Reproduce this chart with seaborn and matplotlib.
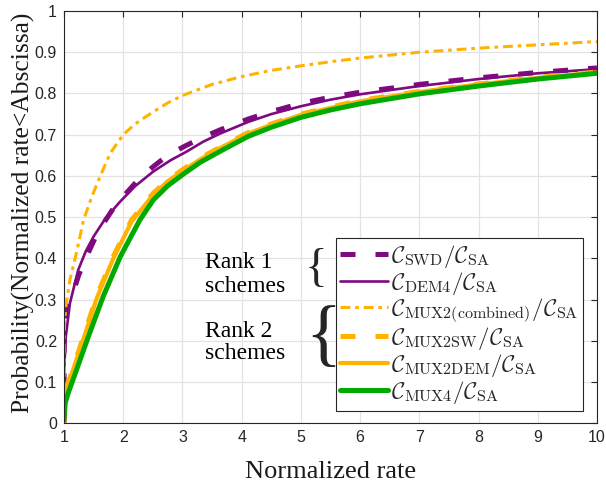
import numpy as np
import pandas as pd
import matplotlib
matplotlib.use("Agg")
import matplotlib.pyplot as plt
import seaborn as sns

# CDF curves of normalized rate (ratio to C_SA)
x_swd = [1.0, 1.002, 1.03, 1.13, 1.25, 1.38, 1.52, 1.69, 1.85, 2.05, 2.25, 2.51, 2.75, 3.05, 3.35, 3.64, 4.11, 4.5, 5, 5.5, 6, 7, 8, 9, 10]
y_swd = [0.0, 0.24, 0.27, 0.307, 0.36, 0.404, 0.448, 0.49, 0.525, 0.558, 0.59, 0.623, 0.65, 0.673, 0.694, 0.712, 0.738, 0.756, 0.776, 0.791, 0.803, 0.822, 0.838, 0.851, 0.862]

x_dem4 = [1.0, 1.003, 1.03, 1.1, 1.24, 1.37, 1.5, 1.7, 1.95, 2.2, 2.51, 2.8, 3.07, 3.35, 3.64, 4.11, 4.5, 5, 5.5, 6, 7, 8, 9, 10]
y_dem4 = [0.0, 0.13, 0.21, 0.291, 0.372, 0.418, 0.453, 0.497, 0.538, 0.575, 0.611, 0.638, 0.659, 0.683, 0.703, 0.731, 0.75, 0.769, 0.785, 0.798, 0.818, 0.835, 0.849, 0.859]

x_comb = [1.0, 1.002, 1.03, 1.1, 1.21, 1.33, 1.47, 1.61, 1.78, 2.0, 2.2, 2.5, 2.75, 3.0, 3.5, 4.0, 4.5, 5, 5.5, 6, 7, 8, 9, 10]
y_comb = [0.0, 0.226, 0.283, 0.348, 0.413, 0.493, 0.55, 0.599, 0.655, 0.700, 0.726, 0.755, 0.777, 0.795, 0.822, 0.841, 0.856, 0.867, 0.877, 0.886, 0.900, 0.910, 0.918, 0.926]

x_mux2sw = [1.0, 1.001, 1.05, 1.16, 1.33, 1.55, 1.83, 2.14, 2.5, 2.75, 3.0, 3.3, 3.64, 4.11, 4.5, 5, 5.5, 6, 7, 8, 9, 10]
y_mux2sw = [0.0, 0.06, 0.089, 0.137, 0.21, 0.307, 0.404, 0.493, 0.557, 0.590, 0.615, 0.643, 0.670, 0.705, 0.726, 0.750, 0.767, 0.783, 0.805, 0.823, 0.839, 0.852]

x_mux2dem = [1.0, 1.001, 1.05, 1.16, 1.33, 1.55, 1.83, 2.14, 2.5, 2.75, 3.0, 3.3, 3.64, 4.11, 4.5, 5, 5.5, 6, 7, 8, 9, 10]
y_mux2dem = [0.0, 0.055, 0.086, 0.133, 0.205, 0.302, 0.399, 0.489, 0.553, 0.587, 0.612, 0.640, 0.668, 0.703, 0.724, 0.748, 0.765, 0.781, 0.804, 0.822, 0.838, 0.851]

x_mux4 = [1.0, 1.02, 1.07, 1.21, 1.41, 1.66, 1.95, 2.28, 2.51, 2.75, 3.02, 3.3, 3.64, 4.11, 4.5, 5, 5.5, 6, 7, 8, 9, 10]
y_mux4 = [0.008, 0.049, 0.073, 0.129, 0.21, 0.307, 0.404, 0.493, 0.542, 0.576, 0.605, 0.633, 0.660, 0.696, 0.718, 0.742, 0.760, 0.775, 0.799, 0.818, 0.835, 0.849]

labels = [
    r"$\mathcal{C}_{\mathrm{SWD}}/\mathcal{C}_{\mathrm{SA}}$",
    r"$\mathcal{C}_{\mathrm{DEM4}}/\mathcal{C}_{\mathrm{SA}}$",
    r"$\mathcal{C}_{\mathrm{MUX2(combined)}}/\mathcal{C}_{\mathrm{SA}}$",
    r"$\mathcal{C}_{\mathrm{MUX2SW}}/\mathcal{C}_{\mathrm{SA}}$",
    r"$\mathcal{C}_{\mathrm{MUX2DEM}}/\mathcal{C}_{\mathrm{SA}}$",
    r"$\mathcal{C}_{\mathrm{MUX4}}/\mathcal{C}_{\mathrm{SA}}$",
]

x_ticks = list(range(1, 11))
y_ticks = [0, 0.1, 0.2, 0.3, 0.4, 0.5, 0.6, 0.7, 0.8, 0.9, 1]
y_ticklabels = ["0", "0.1", "0.2", "0.3", "0.4", "0.5", "0.6", "0.7", "0.8", "0.9", "1"]

PURPLE = "#7E0A80"
ORANGE = "#FFB300"
GREEN = "#00AA00"

sns.set_theme(style="white")
plt.rcParams["mathtext.fontset"] = "cm"
plt.rcParams["font.family"] = ["DejaVu Sans"]

fig = plt.figure(figsize=(6.06, 4.88), dpi=100)
ax = fig.add_axes([0.1056, 0.1326, 0.8795, 0.8448])

series = [
    (x_swd, y_swd, dict(color=PURPLE, lw=3.6, linestyle=(0, (3.0, 4.0)))),
    (x_dem4, y_dem4, dict(color=PURPLE, lw=1.9, linestyle="-")),
    (x_comb, y_comb, dict(color=ORANGE, lw=2.2, linestyle=(0, (3.2, 1.6, 1.2, 1.6)))),
    (x_mux2sw, y_mux2sw, dict(color=ORANGE, lw=3.6, linestyle=(0, (3.0, 4.0)))),
    (x_mux2dem, y_mux2dem, dict(color=ORANGE, lw=3.0, linestyle="-")),
    (x_mux4, y_mux4, dict(color=GREEN, lw=3.6, linestyle="-")),
]

for (xs, ys, style), lab in zip(series, labels):
    df = pd.DataFrame({"rate": xs, "prob": ys})
    sns.lineplot(data=df, x="rate", y="prob", ax=ax, estimator=None, sort=False,
                 label=lab, **style)

ax.set_xlim(1, 10)
ax.set_ylim(0, 1)
ax.set_xticks(x_ticks)
ax.set_xticklabels([str(t) for t in x_ticks])
ax.set_yticks(y_ticks)
ax.set_yticklabels(y_ticklabels)
ax.grid(True, color="#E3E3E3", lw=0.9)
ax.set_axisbelow(True)
for s in ax.spines.values():
    s.set_color("#262626")
    s.set_linewidth(0.8)
ax.tick_params(direction="in", length=4, width=0.8, color="#262626",
               top=True, right=True, labelsize=11.5, labelcolor="#262626", pad=5)
for t in ax.get_xticklabels() + ax.get_yticklabels():
    t.set_fontfamily("Liberation Sans")

ax.set_xlabel("Normalized rate", fontfamily="Liberation Serif", fontsize=19, color="#1a1a1a", labelpad=11)
ax.set_ylabel("Probability(Normalized rate<Abscissa)", fontfamily="Liberation Serif",
              fontsize=18.4, color="#1a1a1a")
ax.yaxis.set_label_coords(-0.055, 0.51)

leg = ax.legend(loc="lower right", bbox_to_anchor=(0.974, 0.03), fontsize=16.5,
                handlelength=2.1, handletextpad=0.12, labelspacing=0.0,
                borderpad=0.2, borderaxespad=0, frameon=True, fancybox=False,
                framealpha=1, edgecolor="#262626")
leg.get_frame().set_linewidth(0.8)

txt = dict(fontfamily="Liberation Serif", fontsize=17, color="black", ha="left", va="center")
ax.text(3.38, 0.389, "Rank 1", **txt)
ax.text(3.38, 0.331, "schemes", **txt)
ax.text(3.38, 0.222, "Rank 2", **txt)
ax.text(3.38, 0.170, "schemes", **txt)
ax.text(5.25, 0.372, "{", fontfamily="Liberation Serif", fontsize=34, ha="center", va="center")
ax.text(5.38, 0.205, "{", fontfamily="Liberation Serif", fontsize=54, ha="center", va="center")

fig.savefig("out.png", dpi=100)
